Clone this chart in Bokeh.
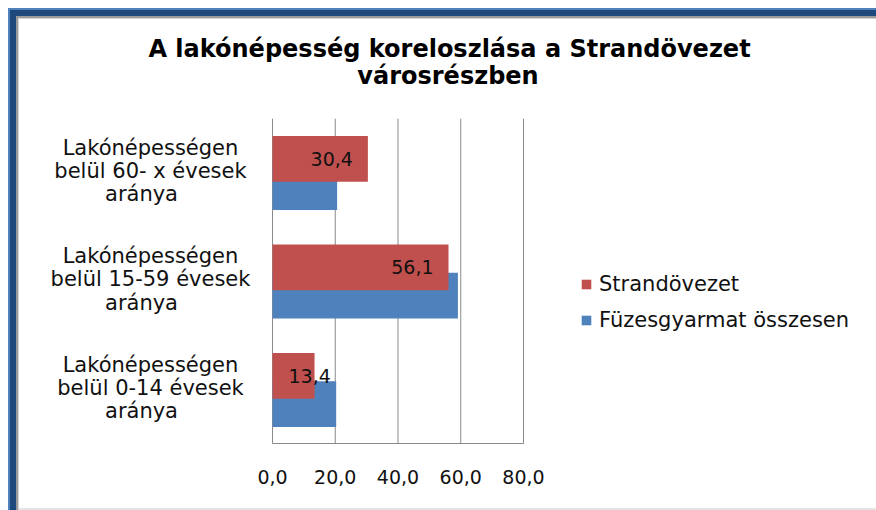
from bokeh.plotting import figure
from bokeh.models import Range1d, FixedTicker, Label, Legend, LegendItem, ColumnDataSource
from bokeh.transform import dodge
from bokeh.embed import file_html
from bokeh.resources import INLINE

# ---- data ----
title_lines = ["A lakónépesség koreloszlása a Strandövezet", "városrészben"]
category_lines = [
    ["Lakónépességen", "belül 0-14 évesek", "aránya"],
    ["Lakónépességen", "belül 15-59 évesek", "aránya"],
    ["Lakónépességen", "belül 60- x évesek", "aránya"],
]
series_names = ["Strandövezet", "Füzesgyarmat összesen"]
strand = [13.4, 56.1, 30.4]
osszesen = [20.3, 59.1, 20.6]
x_ticks = [0, 20, 40, 60, 80]
x_tick_labels = ["0,0", "20,0", "40,0", "60,0", "80,0"]

# ---- style / layout constants ----
RED = "#C0504D"
BLUE = "#4F81BD"
GRID = "#8A8A8A"
TXT = "#111111"
FONT = "DejaVu Sans"

W, H = 876, 510          # figure size
FH = 443                 # frame height (frame spans full width)
PX_X = 3.1375            # px per x unit
X0_PX = 272              # px position of x = 0 from the left edge
PX_Y = 108.5             # px per category
Y0_PX = 53.5             # px of first category centre above the frame bottom

x_start = -X0_PX / PX_X
x_end = (W - X0_PX) / PX_X
y_start = -Y0_PX / PX_Y
y_end = (FH - Y0_PX) / PX_Y

p = figure(
    width=W, height=H,
    min_border_left=0, min_border_right=0, min_border_top=0, min_border_bottom=H - FH,
    x_range=Range1d(x_start, x_end), y_range=Range1d(y_start, y_end),
    y_axis_type=None, output_backend="svg", toolbar_location=None,
)
p.background_fill_alpha = 0
p.border_fill_alpha = 0
p.outline_line_color = None
p.xgrid.visible = False
p.styles = {
    "background-color": "white",
    "box-shadow": ("inset 8px 8px 0 0 #FFFFFF, inset 10px 10px 0 0 #4F81BD, "
                   "inset 16px 16px 0 0 #1F497D, inset 18px 18px 0 0 #9A9A9A, "
                   "inset 19px 19px 0 0 #D4D4D4, inset 0 -2px 0 0 #E4E4E4"),
}

# x axis
ax = p.xaxis[0]
ax.ticker = FixedTicker(ticks=x_ticks)
ax.bounds = (x_ticks[0], x_ticks[-1])
ax.major_label_overrides = {t: l for t, l in zip(x_ticks, x_tick_labels)}
ax.major_tick_out = 0
ax.major_tick_in = 0
ax.minor_tick_out = 0
ax.minor_tick_in = 0
ax.axis_line_color = GRID
ax.major_label_standoff = 26
ax.major_label_text_font = FONT
ax.major_label_text_font_size = "19px"
ax.major_label_text_color = TXT

n = len(strand)
# vertical grid lines over the category band
p.segment(x0=x_ticks, x1=x_ticks, y0=[-0.5] * len(x_ticks), y1=[n - 0.5] * len(x_ticks),
          line_color=GRID, line_width=1)

src = ColumnDataSource(dict(y=list(range(n)), strand=strand, osszesen=osszesen))
r_blue = p.hbar(y=dodge("y", -0.13), left=0, right="osszesen", height=0.42, source=src,
                fill_color=BLUE, line_color=None)
r_red = p.hbar(y=dodge("y", 0.13), left=0, right="strand", height=0.42, source=src,
               fill_color=RED, line_color=None)

# data labels on the red bars
lab_x, lab_align, lab_off, lab_txt = [], [], [], []
for v in strand:
    lab_txt.append(f"{v:.1f}".replace(".", ","))
    if v >= 20:
        lab_x.append(v); lab_align.append("right"); lab_off.append(-15)
    else:
        lab_x.append(0); lab_align.append("left"); lab_off.append(16)
lsrc = ColumnDataSource(dict(x=lab_x, y=[i + 0.13 for i in range(n)],
                             t=lab_txt, a=lab_align, o=lab_off))
p.text(x="x", y="y", text="t", text_align="a", x_offset="o", text_baseline="middle",
       text_font={"value": FONT}, text_font_size="19px", text_color=TXT, source=lsrc)

# category labels (three centred lines each)
cx = (150 - X0_PX) / PX_X
line_dy = [-25.5, -2.5, 21.0]     # baseline offset (px, downwards) from category centre
line_dx = [0, 0, -9]
cl_x, cl_y, cl_t, cl_o = [], [], [], []
for i, lines in enumerate(category_lines):
    for k, line in enumerate(lines):
        cl_x.append(cx)
        cl_y.append(i - line_dy[k] / PX_Y)
        cl_t.append(line)
        cl_o.append(line_dx[k])
csrc = ColumnDataSource(dict(x=cl_x, y=cl_y, t=cl_t, o=cl_o))
p.text(x="x", y="y", text="t", x_offset="o", text_align="center", text_baseline="alphabetic",
       text_font={"value": FONT}, text_font_size="21px", text_color=TXT, source=csrc)

# title (two centred lines)
title_pos = [(449, FH - 48), (447.5, FH - 75)]
for line, (tx, ty) in zip(title_lines, title_pos):
    p.add_layout(Label(x=tx, x_units="screen", y=ty, y_units="screen",
                       text=line, text_align="center", text_baseline="alphabetic",
                       text_font=FONT, text_font_size="24px", text_font_style="bold",
                       text_color="#000000"))

legend = Legend(items=[LegendItem(label=series_names[0], renderers=[r_red]),
                       LegendItem(label=series_names[1], renderers=[r_blue])],
                location=(580, 111), padding=0, margin=0, spacing=11,
                glyph_width=12, glyph_height=12, label_standoff=7, label_height=25,
                label_text_font=FONT, label_text_font_size="21px", label_text_color=TXT,
                border_line_color=None, background_fill_alpha=0)
p.add_layout(legend)

open("out.html", "w").write(file_html(p, INLINE))
